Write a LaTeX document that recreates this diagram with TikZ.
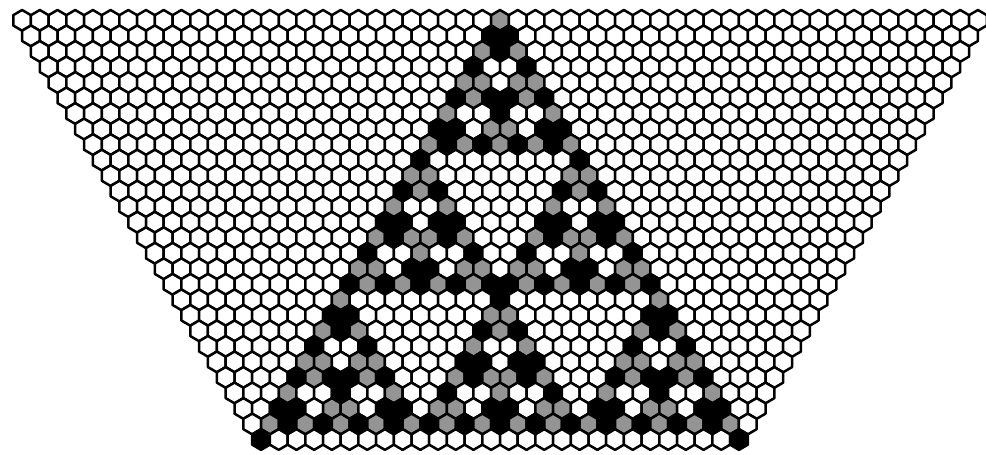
\documentclass[tikz,border=0pt]{standalone}
\usetikzlibrary{calc}

\colorlet{tone0}{white}
\colorlet{tone1}{black!42}
\colorlet{tone2}{black}

% value of an already computed cell, 0 where none was stored
\newcommand\pasval[2]{\ifcsname pas-#1-#2\endcsname\csname pas-#1-#2\endcsname\else0\fi}

\begin{document}
\begin{tikzpicture}[
  x=1pt, y=-1pt,
  hexcell/.style={draw=black, line width=2.5pt, line join=round},
]
\useasboundingbox (0,0) rectangle (986,455);

\def\hw{8.85}   % half width of a cell
\def\hh{10.35}  % half height of a cell

% ============================ rows, 55 cells on top, one less each row ======
\foreach \row in {0,...,27} {
  \pgfmathtruncatemacro\jmax{54-\row}
  \pgfmathtruncatemacro\rp{\row-1}
  \foreach \col in {0,...,\jmax} {
    \pgfmathtruncatemacro\kk{\col-27+\row}
    \pgfmathtruncatemacro\km{\kk-1}
    % triangle: each cell twice the sum of its two upper neighbours, mod 3
    \ifnum\row=0
      \ifnum\kk=0 \def\cv{1}\else\def\cv{0}\fi
    \else
      \edef\va{\pasval{\rp}{\km}}
      \edef\vb{\pasval{\rp}{\kk}}
      \pgfmathtruncatemacro\cv{mod(2*(\va+\vb),3)}
    \fi
    \expandafter\xdef\csname pas-\row-\kk\endcsname{\cv}
    \pgfmathsetmacro\cx{22.1+\row*\hw+\col*2*\hw}
    \pgfmathsetmacro\cy{\hh+10+\row*1.5*\hh}
    \draw[hexcell, fill=tone\cv, shift={(\cx,\cy)}]
      (0,-\hh) -- (\hw,-\hh/2) -- (\hw,\hh/2) -- (0,\hh)
      -- (-\hw,\hh/2) -- (-\hw,-\hh/2) -- cycle;
  }
}

\end{tikzpicture}
\end{document}
